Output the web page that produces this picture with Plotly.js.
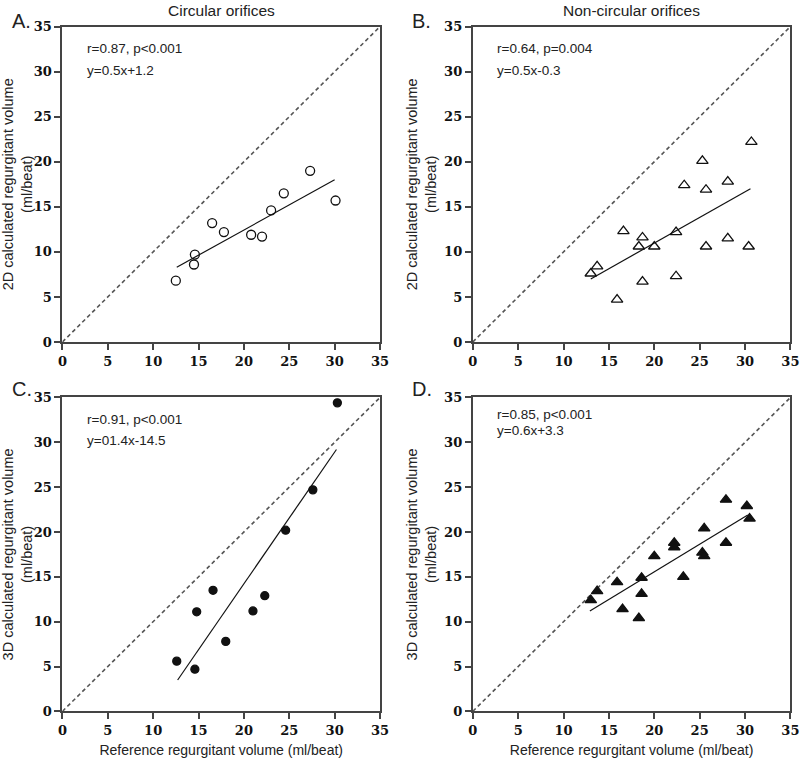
<!DOCTYPE html>
<html>
<head>
<meta charset="utf-8">
<script src="https://cdn.plot.ly/plotly-3.0.1.min.js"></script>
<style>
  body { margin: 0; background: #fff; }
  #plot { width: 800px; height: 760px; }
</style>
</head>
<body>
<div id="plot"></div>
<script>
// GOAL: 2x2 scatter of 2D / 3D calculated vs reference regurgitant volume

// panel A - circular orifices, 2D
let aX = [12.5, 14.5, 14.6, 16.5, 17.8, 20.8, 22.0, 23.0, 24.4, 27.3, 30.1]
let aY = [6.8, 8.6, 9.7, 13.2, 12.2, 11.9, 11.7, 14.6, 16.5, 19.0, 15.7]
let aFitX = [12.6, 30.0]
let aFitY = [8.3, 18.0]

// panel B - non-circular orifices, 2D
let bX = [13.0, 13.7, 15.9, 16.6, 18.3, 18.7, 18.7, 20.0, 22.4, 22.4, 23.3, 25.3, 25.7, 25.7, 28.1, 28.1, 30.4, 30.7]
let bY = [7.6, 8.4, 4.7, 12.3, 10.6, 11.6, 6.7, 10.6, 12.2, 7.3, 17.4, 20.1, 16.9, 10.6, 17.8, 11.5, 10.6, 22.2]
let bFitX = [13.0, 30.6]
let bFitY = [7.0, 17.0]

// panel C - circular orifices, 3D
let cX = [12.6, 14.6, 14.8, 16.6, 18.0, 21.0, 22.3, 24.6, 27.6, 30.3]
let cY = [5.6, 4.7, 11.1, 13.5, 7.8, 11.2, 12.9, 20.2, 24.7, 34.4]
let cFitX = [12.7, 30.2]
let cFitY = [3.5, 29.2]

// panel D - non-circular orifices, 3D
let dX = [13.0, 13.7, 15.9, 16.5, 18.3, 18.6, 18.6, 20.0, 22.2, 22.2, 23.2, 25.3, 25.5, 25.5, 27.9, 27.9, 30.2, 30.5]
let dY = [12.4, 13.4, 14.4, 11.4, 10.4, 13.1, 14.9, 17.3, 18.8, 18.3, 15.0, 17.7, 17.3, 20.4, 23.6, 18.8, 22.9, 21.5]
let dFitX = [12.9, 30.3]
let dFitY = [11.2, 21.9]

// line of identity
let idX = [0, 35]
let idY = [0, 35]

// axis ticks (same on every axis)
let tickVals = [0, 5, 10, 15, 20, 25, 30, 35]
let tickLabels = ["0", "5", "10", "15", "20", "25", "30", "35"]

let statsR = ["r=0.87, p<0.001", "r=0.64, p=0.004", "r=0.91, p<0.001", "r=0.85, p<0.001"]
let statsEq = ["y=0.5x+1.2", "y=0.5x-0.3", "y=01.4x-14.5", "y=0.6x+3.3"]
let panelLetters = ["A.", "B.", "C.", "D."]
let colTitles = ["Circular orifices", "Non-circular orifices"]
let yTitles = [
    "2D calculated regurgitant volume<br>(ml/beat)",
    "2D calculated regurgitant volume<br>(ml/beat)",
    "3D calculated regurgitant volume<br>(ml/beat)",
    "3D calculated regurgitant volume<br>(ml/beat)"
]
let xTitle = "Reference regurgitant volume (ml/beat)"

let panels = [
    {x: aX, y: aY, fx: aFitX, fy: aFitY, symbol: "circle-open", size: 9},
    {x: bX, y: bY, fx: bFitX, fy: bFitY, symbol: "triangle-up-open", size: 10},
    {x: cX, y: cY, fx: cFitX, fy: cFitY, symbol: "circle", size: 8},
    {x: dX, y: dY, fx: dFitX, fy: dFitY, symbol: "triangle-up", size: 10}
]

let data = []
for (var i = 0; i < panels.length; i++)
{
    let p = panels[i]
    let xa = i == 0 ? "x" : "x" + (i + 1)
    let ya = i == 0 ? "y" : "y" + (i + 1)
    data.push({x: idX, y: idY, xaxis: xa, yaxis: ya, mode: "lines",
        line: {color: "#555", width: 1.6, dash: "4px,3px"}, hoverinfo: "skip"})
    data.push({x: p.fx, y: p.fy, xaxis: xa, yaxis: ya, mode: "lines",
        line: {color: "#111", width: 1.2}})
    data.push({x: p.x, y: p.y, xaxis: xa, yaxis: ya, mode: "markers",
        marker: {symbol: p.symbol, size: p.size, color: "#111",
                 line: {color: "#111", width: 1.3}}})
}

let sans = "Liberation Sans"
// heavy serif tick labels like the original figure
let tickFont = {family: "DejaVu Serif", size: 13, color: "#111", weight: 900}

function makeX(dom, title) {
    return {domain: dom, range: [0, 35], tickmode: "array", tickvals: tickVals, ticktext: tickLabels,
        showline: true, mirror: true, linecolor: "#444", linewidth: 2,
        ticks: "outside", ticklen: 6, tickwidth: 2, tickcolor: "#444",
        showgrid: false, zeroline: false, tickfont: tickFont,
        title: {text: title, font: {family: sans, size: 14, color: "#222"}, standoff: 8}}
}
function makeY(dom, title) {
    return {domain: dom, range: [0, 35], tickmode: "array", tickvals: tickVals, ticktext: tickLabels,
        showline: true, mirror: true, linecolor: "#444", linewidth: 2,
        ticks: "outside", ticklen: 6, tickwidth: 2, tickcolor: "#444",
        showgrid: false, zeroline: false, tickfont: tickFont,
        title: {text: title, font: {family: sans, size: 14.5, color: "#222"}, standoff: 4}}
}

let colX = [[0.078, 0.475], [0.591, 0.988]]
let rowY = [[0.55, 0.965], [0.064, 0.477]]

let layout = {
    width: 800, height: 760,
    margin: {l: 0, r: 0, t: 0, b: 0},
    showlegend: false,
    paper_bgcolor: "#fff", plot_bgcolor: "#fff",
    xaxis: makeX(colX[0], ""), yaxis: makeY(rowY[0], yTitles[0]),
    xaxis2: makeX(colX[1], ""), yaxis2: makeY(rowY[0], yTitles[1]),
    xaxis3: makeX(colX[0], xTitle), yaxis3: makeY(rowY[1], yTitles[2]),
    xaxis4: makeX(colX[1], xTitle), yaxis4: makeY(rowY[1], yTitles[3]),
    annotations: []
}
// vertical spots of the two stats lines (D is packed tighter)
let statsY = [[0.93, 0.862], [0.93, 0.862], [0.93, 0.862], [0.947, 0.894]]
for (var i = 0; i < 4; i++)
{
    let n = i == 0 ? "" : (i + 1)
    layout["xaxis" + n].anchor = "y" + n
    layout["yaxis" + n].anchor = "x" + n
    // stats text inside each panel
    let lines = [statsR[i], statsEq[i]]
    for (var k = 0; k < 2; k++)
    {
        layout.annotations.push({xref: "x" + n + " domain", yref: "y" + n + " domain",
            x: 0.07, y: statsY[i][k], xanchor: "left", yanchor: "middle",
            showarrow: false, text: lines[k],
            font: {family: sans, size: 13.5, color: "#222"}})
    }
    // panel letter
    layout.annotations.push({xref: "paper", yref: "paper",
        x: i % 2 == 0 ? 0.012 : 0.512, y: i < 2 ? 0.99 : 0.505,
        xanchor: "left", yanchor: "top", showarrow: false, text: panelLetters[i],
        font: {family: sans, size: 20, color: "#222"}})
}
for (var j = 0; j < 2; j++)
{
    layout.annotations.push({xref: "paper", yref: "paper",
        x: (colX[j][0] + colX[j][1]) / 2, y: 1.0, xanchor: "center", yanchor: "top",
        showarrow: false, text: colTitles[j],
        font: {family: sans, size: 15.5, color: "#222"}})
}

Plotly.newPlot("plot", data, layout, {displayModeBar: false});
</script>
</body>
</html>
